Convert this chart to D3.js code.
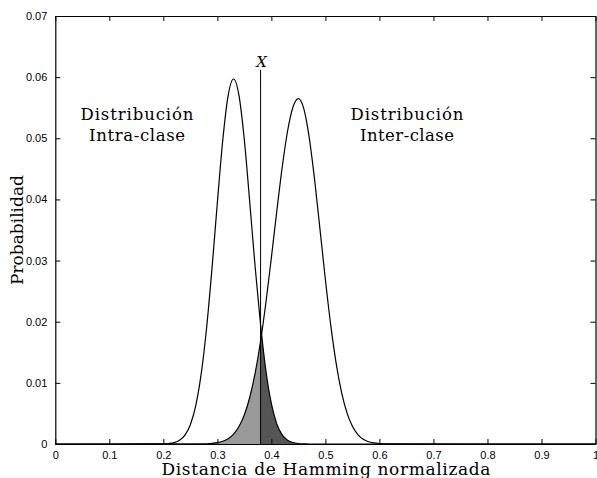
<!DOCTYPE html>
<head>
    <style>
        body { margin: 0; background: #fff; }
        svg { display: block; background-color: #fff; }
        .tick-label { font-family: "Liberation Sans", Arial, sans-serif; font-size: 11px; fill: #000; }
        .serif { font-family: "DejaVu Serif", serif; fill: #000; }
    </style>
</head>
<body>
    <script src="https://d3js.org/d3.v7.min.js"></script>
    <script>
        const w = 597, h = 478;
        const margin = {left: 55.3, right: 1.5, top: 16, bottom: 34};

        // distancia de Hamming normalizada (eje x)
        const xIntra = [0, 0.19, 0.20, 0.21, 0.22, 0.23, 0.24, 0.25, 0.26, 0.27, 0.28, 0.29, 0.30, 0.31, 0.32, 0.33,
                        0.34, 0.35, 0.36, 0.37, 0.38, 0.39, 0.40, 0.41, 0.42, 0.43, 0.44, 0.45, 0.46, 0.47, 1];
        const yIntra = [0, 0.00001, 0.00003, 0.00008, 0.00023, 0.00061, 0.00145, 0.00316, 0.00629, 0.01143, 0.01894,
                        0.02864, 0.03949, 0.04968, 0.05702, 0.0597, 0.05702, 0.04968, 0.03949, 0.02890, 0.01950,
                        0.01190, 0.00660, 0.00330, 0.00150, 0.00063, 0.00024, 0.00008, 0.00003, 0, 0];

        const xInter = [0, 0.27, 0.28, 0.29, 0.30, 0.31, 0.32, 0.33, 0.34, 0.35, 0.36, 0.37, 0.38, 0.39, 0.40, 0.41,
                        0.42, 0.43, 0.44, 0.45, 0.46, 0.47, 0.48, 0.49, 0.50, 0.51, 0.52, 0.53, 0.54, 0.55, 0.56,
                        0.57, 0.58, 0.59, 0.60, 0.61, 0.62, 1];
        const yInter = [0, 0.00002, 0.00004, 0.0001, 0.00022, 0.00045, 0.00087, 0.00161, 0.00285, 0.00479, 0.00765,
                        0.01163, 0.01685, 0.02323, 0.03048, 0.03806, 0.04524, 0.05119, 0.05512, 0.0565, 0.05484,
                        0.05016, 0.04323, 0.03510, 0.02686, 0.01936, 0.01315, 0.00842, 0.00508, 0.00289, 0.00155,
                        0.00078, 0.00037, 0.00017, 0.00007, 0.00003, 0.00001, 0];

        const umbral = 0.38;        // X
        const umbralTop = 0.0612;
        const xTicks = [0, 0.1, 0.2, 0.3, 0.4, 0.5, 0.6, 0.7, 0.8, 0.9, 1];
        const yTicks = [0, 0.01, 0.02, 0.03, 0.04, 0.05, 0.06, 0.07];

        const intra = xIntra.map((x, i) => ({x: x, y: yIntra[i]}));
        const inter = xInter.map((x, i) => ({x: x, y: yInter[i]}));

        const svg = d3.select('body').append('svg')
                      .attr('width', w).attr('height', h);

        const x = d3.scaleLinear().domain([0, 1]).range([margin.left, w - margin.right]);
        const y = d3.scaleLinear().domain([0, 0.07]).range([h - margin.bottom, margin.top]);

        const area = d3.area().x(d => x(d.x)).y0(y(0)).y1(d => y(d.y)).curve(d3.curveMonotoneX);
        const line = d3.line().x(d => x(d.x)).y(d => y(d.y)).curve(d3.curveMonotoneX);

        // zonas sombreadas
        svg.append('path')
           .datum(inter.filter(d => d.x > 0 && d.x <= umbral))
           .attr('d', area)
           .attr('fill', '#9a9a9a');
        svg.append('path')
           .datum(intra.filter(d => d.x >= umbral && d.x < 1))
           .attr('d', area)
           .attr('fill', '#555');

        [intra, inter].forEach(s => {
            svg.append('path').datum(s).attr('d', line)
               .attr('fill', 'none').attr('stroke', '#000').attr('stroke-width', 1.2);
        });

        // linea umbral X
        svg.append('line')
           .attr('x1', x(umbral)).attr('x2', x(umbral))
           .attr('y1', y(0)).attr('y2', y(umbralTop))
           .attr('stroke', '#000').attr('stroke-width', 1);
        svg.append('text').attr('class', 'serif')
           .attr('x', x(umbral) + 1).attr('y', y(umbralTop) - 3)
           .attr('text-anchor', 'middle').attr('font-style', 'italic').attr('font-size', 15)
           .text('X');

        // ejes estilo matlab: caja con marcas hacia dentro
        const axB = d3.axisBottom(x).tickValues(xTicks).tickSizeInner(-5).tickSizeOuter(0)
                      .tickPadding(7).tickFormat(d3.format('~g'));
        const axT = d3.axisTop(x).tickValues(xTicks).tickSizeInner(-5).tickSizeOuter(0).tickFormat('');
        const axL = d3.axisLeft(y).tickValues(yTicks).tickSizeInner(-5).tickSizeOuter(0)
                      .tickPadding(8).tickFormat(d3.format('~g'));
        const axR = d3.axisRight(y).tickValues(yTicks).tickSizeInner(-5).tickSizeOuter(0).tickFormat('');

        function style(g) {
            g.select('.domain').attr('stroke', '#000').attr('stroke-width', 1.2);
            g.selectAll('.tick line').attr('stroke', '#000');
            g.selectAll('.tick text').attr('class', 'tick-label').attr('fill', '#000');
        }
        svg.append('g').attr('transform', `translate(0,${y(0)})`).call(axB).call(style)
           .selectAll('.tick text').attr('dy', '0.71em');
        svg.append('g').attr('transform', `translate(0,${y(0.07)})`).call(axT).call(style);
        svg.append('g').attr('transform', `translate(${x(0)},0)`).call(axL).call(style);
        svg.append('g').attr('transform', `translate(${x(1)},0)`).call(axR).call(style);

        // etiquetas de ejes
        svg.append('text').attr('class', 'serif')
           .attr('x', 326).attr('y', 475).attr('text-anchor', 'middle')
           .attr('font-size', 17).attr('textLength', 329).attr('lengthAdjust', 'spacing')
           .text('Distancia de Hamming normalizada');
        svg.append('text').attr('class', 'serif')
           .attr('transform', `translate(23,${(y(0) + y(0.07)) / 2}) rotate(-90)`)
           .attr('text-anchor', 'middle').attr('font-size', 17)
           .text('Probabilidad');

        // anotaciones
        const notas = [
            {cx: 137, lines: ['Distribución', 'Intra-clase'], widths: [113, 96]},
            {cx: 407, lines: ['Distribución', 'Inter-clase'], widths: [113, 94]}
        ];
        notas.forEach(n => {
            n.lines.forEach((t, i) => {
                svg.append('text').attr('class', 'serif')
                   .attr('x', n.cx).attr('y', 120 + i * 20.7)
                   .attr('text-anchor', 'middle').attr('font-size', 16.5)
                   .attr('textLength', n.widths[i]).attr('lengthAdjust', 'spacing')
                   .text(t);
            });
        });
    </script>
</body>
